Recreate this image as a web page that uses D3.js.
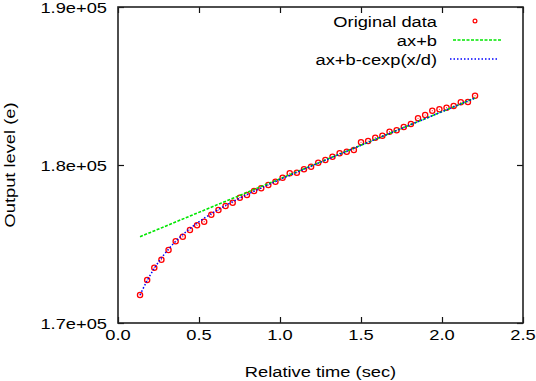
<!DOCTYPE html>
<html>
<head>
<meta charset="utf-8">
<script src="https://cdn.jsdelivr.net/npm/d3@7"></script>
<style>
  html, body { margin: 0; padding: 0; background: #fff; }
  svg { display: block; }
  text { font-family: "Liberation Sans", Arial, Helvetica, sans-serif; fill: #000; }
</style>
</head>
<body>
<svg id="chart" width="536" height="381"></svg>
<script>
// ---- data ----
const timeValues = [0.136, 0.180, 0.224, 0.268, 0.312, 0.356, 0.400, 0.444, 0.488, 0.532,
  0.576, 0.620, 0.664, 0.708, 0.752, 0.796, 0.840, 0.884, 0.928, 0.972,
  1.016, 1.060, 1.104, 1.148, 1.192, 1.236, 1.280, 1.324, 1.368, 1.412,
  1.456, 1.500, 1.544, 1.588, 1.632, 1.676, 1.720, 1.764, 1.808, 1.852,
  1.896, 1.940, 1.984, 2.028, 2.072, 2.116, 2.160, 2.204];
const outputLevel = [171772, 172722, 173500, 174006, 174620, 175171, 175462, 175886, 176184, 176412,
  176855, 177152, 177405, 177614, 177930, 178101, 178354, 178525, 178734, 178943,
  179196, 179475, 179513, 179728, 179892, 180146, 180316, 180525, 180741, 180842,
  180949, 181437, 181519, 181728, 181855, 182108, 182196, 182405, 182595, 182956,
  183165, 183437, 183525, 183627, 183734, 183968, 183987, 184386];
const expFitValues = [171770, 172686, 173458, 174113, 174677, 175166, 175596, 175977, 176319, 176632,
  176919, 177187, 177439, 177677, 177905, 178126, 178340, 178548, 178752, 178952,
  179151, 179347, 179541, 179733, 179924, 180115, 180305, 180494, 180682, 180871,
  181059, 181247, 181435, 181622, 181809, 181997, 182184, 182372, 182558, 182745,
  182932, 183119, 183306, 183492, 183679, 183866, 184053, 184240];
const linFitX = [0.136, 2.204];
const linFitY = [175460, 184240];
const seriesNames = ["Original data", "ax+b", "ax+b-cexp(x/d)"];
const xTicks = [0, 0.5, 1.0, 1.5, 2.0, 2.5];
const xTickLabels = ["0.0", "0.5", "1.0", "1.5", "2.0", "2.5"];
const yTicks = [170000, 180000, 190000];
const yTickLabels = ["1.7e+05", "1.8e+05", "1.9e+05"];
const xTitle = "Relative time (sec)";
const yTitle = "Output level (e)";

// ---- layout ----
const L = 118, R = 523, T = 7, B = 323;
const FS = 15, SX = 1.22;
const svg = d3.select("#chart");
const x = d3.scaleLinear().domain([0, 2.5]).range([L, R]);
const y = d3.scaleLinear().domain([170000, 190000]).range([B, T]);

function label(tx, ty, str, anchor, rot) {
  return svg.append("text")
    .attr("transform", `translate(${tx},${ty})` + (rot ? ` rotate(${rot})` : "") + ` scale(${SX},1)`)
    .attr("text-anchor", anchor)
    .attr("font-size", FS)
    .text(str);
}

// ticks (inward, mirrored) via axes
const tickLen = 6;
const gx = svg.append("g").attr("transform", `translate(0,${B})`)
  .call(d3.axisTop(x).tickValues(xTicks).tickSize(tickLen).tickFormat(""));
const gx2 = svg.append("g").attr("transform", `translate(0,${T})`)
  .call(d3.axisBottom(x).tickValues(xTicks).tickSize(tickLen).tickFormat(""));
const gy = svg.append("g").attr("transform", `translate(${L},0)`)
  .call(d3.axisRight(y).tickValues(yTicks).tickSize(tickLen).tickFormat(""));
const gy2 = svg.append("g").attr("transform", `translate(${R},0)`)
  .call(d3.axisLeft(y).tickValues(yTicks).tickSize(tickLen).tickFormat(""));
[gx, gx2, gy, gy2].forEach(g => {
  g.select(".domain").remove();
  g.selectAll("line").attr("stroke", "#111").attr("stroke-width", 1.2);
});

// frame
svg.append("rect").attr("x", L).attr("y", T).attr("width", R - L).attr("height", B - T)
  .attr("fill", "none").attr("stroke", "#222").attr("stroke-width", 1.6);

// tick labels
xTicks.forEach((v, i) => label(x(v), B + 17, xTickLabels[i], "middle"));
yTicks.forEach((v, i) => label(L - 11, y(v) + 5.5, yTickLabels[i], "end"));

// titles
label((L + R) / 2, 377, xTitle, "middle");
label(15, (T + B) / 2, yTitle, "middle", -90);

// data points
const pts = svg.append("g");
timeValues.forEach((t, i) => {
  pts.append("circle").attr("cx", x(t)).attr("cy", y(outputLevel[i])).attr("r", 2.6)
    .attr("fill", "none").attr("stroke", "#ff0000").attr("stroke-width", 1.3);
  pts.append("circle").attr("cx", x(t)).attr("cy", y(outputLevel[i])).attr("r", 0.6)
    .attr("fill", "#ff3030");
});

// linear fit
const line = d3.line().x(d => x(d[0])).y(d => y(d[1]));
svg.append("path").attr("d", line(linFitX.map((v, i) => [v, linFitY[i]])))
  .attr("fill", "none").attr("stroke", "#00e600").attr("stroke-width", 1.6)
  .attr("stroke-dasharray", "3,1.5");

// exp fit
svg.append("path").attr("d", d3.line().curve(d3.curveMonotoneX).x(d => x(d[0])).y(d => y(d[1]))(
    timeValues.map((v, i) => [v, expFitValues[i]])))
  .attr("fill", "none").attr("stroke", "#0000ff").attr("stroke-width", 1.5)
  .attr("stroke-dasharray", "1.5,2");

// legend
const legTextX = 437;
const rows = [21, 40, 59];
seriesNames.forEach((s, i) => label(legTextX, rows[i] + 6, s, "end"));
svg.append("circle").attr("cx", 475).attr("cy", rows[0]).attr("r", 1.9)
  .attr("fill", "none").attr("stroke", "#ff0000").attr("stroke-width", 1.2);
svg.append("line").attr("x1", 453).attr("x2", 501).attr("y1", rows[1]).attr("y2", rows[1])
  .attr("stroke", "#00e600").attr("stroke-width", 1.6).attr("stroke-dasharray", "3,1.5");
svg.append("line").attr("x1", 450).attr("x2", 499).attr("y1", rows[2]).attr("y2", rows[2])
  .attr("stroke", "#0000ff").attr("stroke-width", 1.5).attr("stroke-dasharray", "1.5,2");
</script>
</body>
</html>
